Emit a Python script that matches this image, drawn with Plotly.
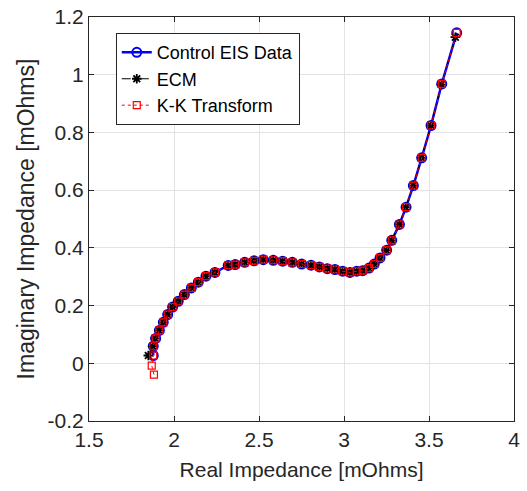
import plotly.graph_objects as go

# Control EIS data (real, imaginary) in mOhms
data_re = [1.878, 1.878, 1.892, 1.914, 1.937, 1.963, 1.992, 2.025, 2.061, 2.102,
           2.143, 2.188, 2.241, 2.319, 2.360, 2.416, 2.471, 2.525, 2.584, 2.639,
           2.696, 2.751, 2.806, 2.855, 2.902, 2.947, 2.992, 3.035, 3.075, 3.110,
           3.147, 3.178, 3.212, 3.251, 3.281, 3.326, 3.365, 3.408, 3.457, 3.512,
           3.575, 3.663]
data_im = [0.027, 0.059, 0.086, 0.114, 0.142, 0.169, 0.195, 0.215, 0.238, 0.261,
           0.281, 0.302, 0.315, 0.339, 0.342, 0.350, 0.355, 0.359, 0.357, 0.354,
           0.350, 0.344, 0.340, 0.334, 0.328, 0.325, 0.319, 0.315, 0.319, 0.321,
           0.330, 0.344, 0.365, 0.392, 0.426, 0.481, 0.541, 0.616, 0.712, 0.824,
           0.968, 1.145]

# Equivalent circuit model fit
ecm_re = [1.849, 1.875, 1.890, 1.912, 1.936, 1.962, 1.991, 2.024, 2.060, 2.101,
          2.142, 2.187, 2.240, 2.318, 2.359, 2.415, 2.470, 2.524, 2.583, 2.638,
          2.695, 2.750, 2.805, 2.854, 2.901, 2.946, 2.991, 3.034, 3.074, 3.109,
          3.146, 3.177, 3.211, 3.250, 3.280, 3.325, 3.364, 3.407, 3.456, 3.511,
          3.573, 3.655]
ecm_im = [0.027, 0.059, 0.086, 0.114, 0.142, 0.169, 0.195, 0.215, 0.238, 0.261,
          0.281, 0.302, 0.315, 0.339, 0.342, 0.350, 0.355, 0.359, 0.357, 0.354,
          0.350, 0.344, 0.340, 0.334, 0.328, 0.325, 0.319, 0.315, 0.319, 0.321,
          0.330, 0.344, 0.365, 0.392, 0.426, 0.481, 0.541, 0.616, 0.712, 0.824,
          0.966, 1.130]

# Kramers-Kronig transform
kk_re = [1.882, 1.869] + data_re
kk_im = [-0.039, -0.008] + data_im

x_ticks = [1.5, 2, 2.5, 3, 3.5, 4]
x_tick_labels = ["1.5", "2", "2.5", "3", "3.5", "4"]
y_ticks = [-0.2, 0, 0.2, 0.4, 0.6, 0.8, 1, 1.2]
y_tick_labels = ["-0.2", "0", "0.2", "0.4", "0.6", "0.8", "1", "1.2"]

font = "Liberation Sans, Arial, sans-serif"
axis_col = "#262626"

fig = go.Figure()
fig.add_trace(go.Scatter(
    x=data_re, y=data_im, mode="lines+markers", name="Control EIS Data",
    line=dict(color="#0000ff", width=2.5),
    marker=dict(symbol="circle-open", size=9, color="#0000ff", line=dict(width=2)),
))
fig.add_trace(go.Scatter(
    x=ecm_re, y=ecm_im, mode="lines+markers", name="ECM",
    line=dict(color="black", width=1, dash="dashdot"),
    marker=dict(symbol="asterisk-open", size=8, color="black", line=dict(width=1.8)),
))
fig.add_trace(go.Scatter(
    x=kk_re, y=kk_im, mode="lines+markers", name="K-K Transform",
    line=dict(color="#ff0000", width=1, dash="dot"),
    marker=dict(symbol="square-open", size=7, color="#ff0000", line=dict(width=1.2)),
))

axis_common = dict(
    showgrid=True, gridcolor="#e3e3e3", gridwidth=1,
    showline=True, linecolor=axis_col, linewidth=1, mirror="ticks",
    ticks="inside", ticklen=5, tickcolor=axis_col,
    tickfont=dict(family=font, size=21, color=axis_col),
    zeroline=False, automargin=False,
)

fig.update_layout(
    width=527, height=491,
    margin=dict(l=89, r=13, t=17, b=70),
    paper_bgcolor="white", plot_bgcolor="white",
    xaxis=dict(range=[1.5, 4], tickvals=x_ticks, ticktext=x_tick_labels,
               title=dict(text="Real Impedance [mOhms]", standoff=12,
                          font=dict(family=font, size=21, color=axis_col)),
               **axis_common),
    yaxis=dict(range=[-0.2, 1.2], tickvals=y_ticks, ticktext=y_tick_labels,
               title=dict(text="Imaginary Impedance [mOhms]", standoff=6,
                          font=dict(family=font, size=23, color=axis_col)),
               **axis_common),
    legend=dict(x=0.063, y=0.960, xanchor="left", yanchor="top",
                bgcolor="white", bordercolor=axis_col, borderwidth=1,
                font=dict(family=font, size=18, color="black"),
                tracegroupgap=0, itemwidth=30),
    showlegend=True,
)

# remove the default page margin so the figure sits at the window's corner
fig.write_html("out.html", config={"displayModeBar": False},
               post_script="document.body.style.margin='0px';")
